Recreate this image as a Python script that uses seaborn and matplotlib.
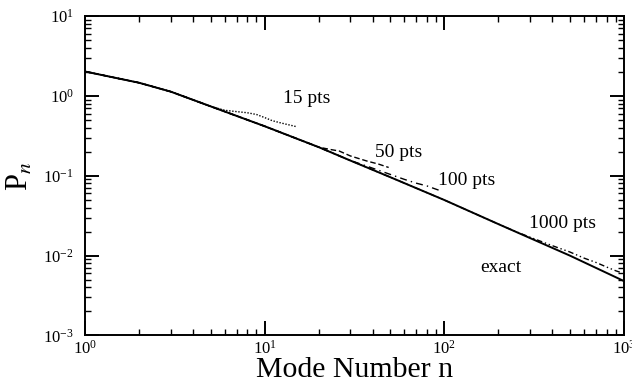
import numpy as np
import pandas as pd
import matplotlib
matplotlib.use("Agg")
import matplotlib.pyplot as plt
import seaborn as sns
from matplotlib.ticker import LogLocator, NullFormatter

# ---- data ----
n_exact = [1, 1.5, 2, 3, 5, 7, 10, 20, 30, 50, 100, 200, 500, 1000]
p_exact = [2.02, 1.67, 1.46, 1.13, 0.74, 0.56, 0.417, 0.228, 0.155, 0.096, 0.0497, 0.0248, 0.0100, 0.0048]

n_15 = [1, 2, 3, 4, 5, 6, 7, 8, 9, 10, 11, 12, 13, 14, 15]
p_15 = [2.02, 1.46, 1.13, 0.89, 0.74, 0.66, 0.635, 0.615, 0.585, 0.535, 0.49, 0.465, 0.445, 0.428, 0.412]

n_50 = [1, 1.5, 2, 3, 5, 7, 10, 20, 23, 26, 30, 37, 43, 49]
p_50 = [2.02, 1.67, 1.46, 1.13, 0.74, 0.56, 0.417, 0.228, 0.214, 0.204, 0.177, 0.153, 0.140, 0.127]

n_100 = [1, 1.5, 2, 3, 5, 7, 10, 20, 30, 35, 50, 60, 70, 80, 90, 97]
p_100 = [2.02, 1.67, 1.46, 1.13, 0.74, 0.56, 0.417, 0.228, 0.155, 0.138, 0.104, 0.090, 0.0806, 0.0746, 0.0678, 0.064]

n_1000 = [1, 1.5, 2, 3, 5, 7, 10, 20, 30, 50, 100, 200, 250, 300, 400, 500, 600, 700, 800, 900, 950]
p_1000 = [2.02, 1.67, 1.46, 1.13, 0.74, 0.56, 0.417, 0.228, 0.155, 0.096, 0.0497, 0.0248, 0.0200, 0.0170,
          0.0133, 0.0111, 0.0093, 0.0082, 0.0072, 0.00646, 0.0062]

labels = ["15 pts", "50 pts", "100 pts", "1000 pts", "exact"]
label_n = [12.6, 41.1, 92.1, 295.7, 157.8]
label_p = [0.93, 0.197, 0.0879, 0.0255, 0.00718]

x_label = "Mode Number n"
y_label = r"P$_{\it n}$"

# ---- style ----
sns.set_style("ticks")
plt.rcParams["font.family"] = ["Liberation Serif", "DejaVu Serif"]
plt.rcParams["mathtext.fontset"] = "stix"
plt.rcParams["axes.unicode_minus"] = False
plt.rcParams["text.color"] = "black"
plt.rcParams["axes.labelcolor"] = "black"
plt.rcParams["xtick.color"] = "black"
plt.rcParams["ytick.color"] = "black"

fig = plt.figure(figsize=(6.32, 3.85), dpi=100)
ax = fig.add_axes([0.1345, 0.1286, 0.8528, 0.8298])

series = [
    (n_exact, p_exact, "-", 1.4),
    (n_15, p_15, (0, (1, 1.2)), 1.0),
    (n_50, p_50, (0, (4, 2)), 1.0),
    (n_100, p_100, (0, (5, 3, 1, 3)), 1.0),
    (n_1000, p_1000, (0, (4, 2, 1, 2, 1, 2)), 1.0),
]
for xs, ys, ls, lw in series:
    df = pd.DataFrame({"n": xs, "P": ys})
    sns.lineplot(data=df, x="n", y="P", ax=ax, color="black", linestyle=ls,
                 linewidth=lw, estimator=None, sort=False)

ax.set_xscale("log")
ax.set_yscale("log")
ax.set_xlim(1, 1000)
ax.set_ylim(1e-3, 10)

for t, xn, yp in zip(labels, label_n, label_p):
    ax.text(xn, yp, t, ha="left", va="center", fontsize=14, color="black")

ax.set_xlabel(x_label, fontsize=21.5, color="black")
ax.set_ylabel(y_label, fontsize=22, color="black")
ax.xaxis.set_label_coords(0.5, -0.066)
ax.yaxis.set_label_coords(-0.093, 0.5)

for s in ax.spines.values():
    s.set_linewidth(1.4)
    s.set_color("black")

ax.xaxis.set_major_locator(LogLocator(base=10, numticks=10))
ax.yaxis.set_major_locator(LogLocator(base=10, numticks=10))
ax.xaxis.set_minor_locator(LogLocator(base=10, subs=np.arange(2, 10), numticks=20))
ax.yaxis.set_minor_locator(LogLocator(base=10, subs=np.arange(2, 10), numticks=20))
ax.xaxis.set_minor_formatter(NullFormatter())
ax.yaxis.set_minor_formatter(NullFormatter())

ax.tick_params(which="both", direction="in", top=True, right=True, colors="black",
               labelcolor="black")
ax.tick_params(which="major", length=10, width=1.4, labelsize=12, pad=3)
ax.tick_params(which="minor", length=4, width=1.0)
ax.tick_params(axis="y", which="major", pad=8)

fig.savefig("out.png", dpi=100)
